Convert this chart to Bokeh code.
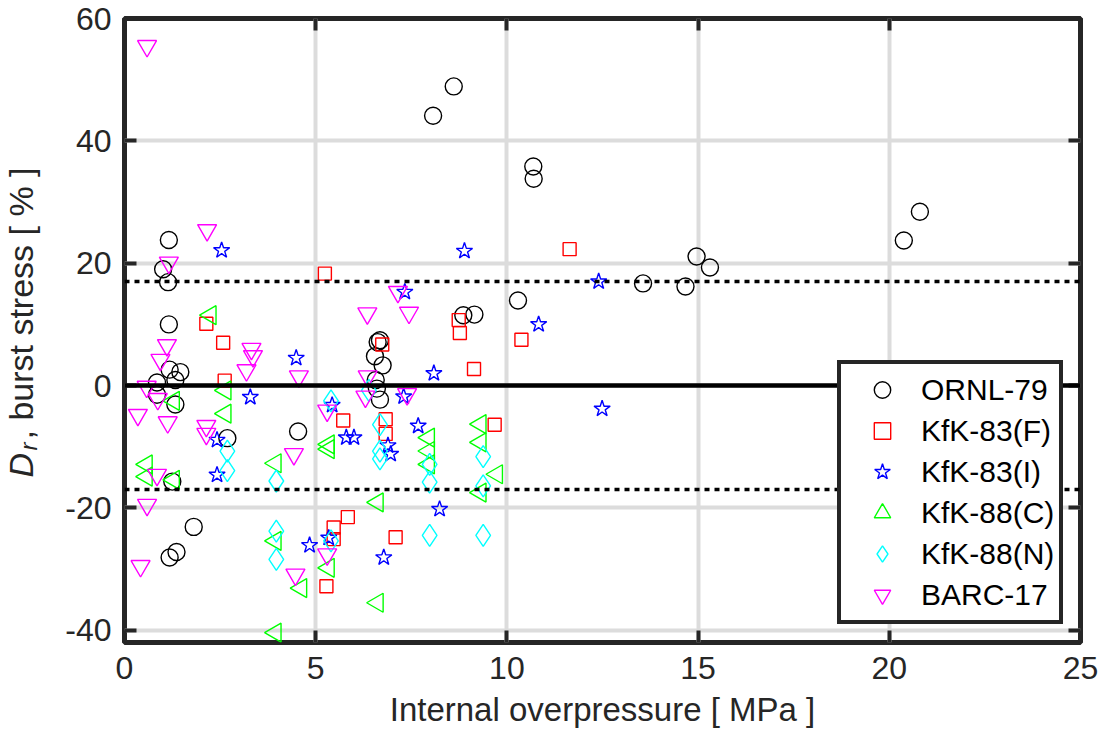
import math
from bokeh.plotting import figure
from bokeh.layouts import row
from bokeh.models import (Range1d, FixedTicker, LinearAxis, Legend, LegendItem,
                          Label, Span)
from bokeh.embed import file_html
from bokeh.resources import INLINE

# ---------------- data ----------------
ornl_x = [8.61, 8.07, 10.69, 10.70, 20.80, 20.38, 14.96, 15.31, 13.56, 14.67, 10.29,
          9.15, 8.86, 6.68, 6.62, 6.55, 6.75, 6.57, 6.60, 6.68, 1.16, 1.01, 1.14, 1.16,
          1.18, 1.46, 1.33, 0.85, 0.85, 1.33, 2.69, 4.54, 1.25, 1.81, 1.36, 1.18]
ornl_y = [48.9, 44.1, 35.8, 33.8, 28.4, 23.7, 21.1, 19.3, 16.7, 16.2, 13.9,
          11.6, 11.5, 7.4, 7.1, 4.8, 3.3, 0.9, -0.5, -2.3, 23.8, 19.0, 16.9, 10.0,
          2.6, 2.2, 0.9, 0.5, -1.5, -3.1, -8.6, -7.5, -15.7, -23.1, -27.2, -28.1]

kf_x = [5.24, 2.14, 2.58, 2.62, 5.72, 5.84, 5.47, 5.47, 5.28, 8.74, 8.77, 6.74, 9.14,
        10.38, 6.83, 6.83, 9.68, 7.09, 11.64]
kf_y = [18.3, 10.1, 7.0, 0.8, -5.7, -21.5, -23.2, -25.1, -32.8, 10.7, 8.6, 6.7, 2.7,
        7.5, -5.5, -7.9, -6.4, -24.8, 22.3]

ki_x = [2.54, 4.49, 3.29, 2.42, 2.42, 5.43, 5.80, 6.00, 4.84, 5.34, 8.09, 7.30, 7.68,
        6.89, 6.96, 8.24, 6.78, 10.83, 12.49, 8.89, 7.33, 12.40]
ki_y = [22.1, 4.5, -1.9, -8.9, -14.6, -3.2, -8.5, -8.5, -26.1, -24.9, 2.0, -1.8, -6.6,
        -9.8, -11.2, -20.2, -28.1, 10.0, -3.8, 22.0, 15.3, 17.0]

kc_x = [2.25, 2.64, 2.64, 1.29, 0.58, 0.58, 1.29, 3.95, 3.95, 4.62, 5.34, 5.34, 5.34,
        3.95, 7.96, 7.96, 7.96, 9.31, 9.31, 9.74, 9.31, 6.62, 6.62]
kc_y = [11.5, -0.8, -4.6, -2.5, -12.9, -14.9, -15.4, -12.7, -25.4, -33.1, -29.8, -9.6,
        -10.4, -40.4, -8.5, -10.7, -12.9, -6.3, -9.3, -14.5, -17.5, -19.1, -35.5]

kn_x = [5.40, 2.69, 2.69, 3.97, 3.97, 3.97, 5.40, 6.68, 6.68, 6.68, 7.98, 7.98, 7.98,
        9.38, 9.38, 9.38, 6.39]
kn_y = [-2.5, -10.7, -13.9, -15.6, -23.8, -28.4, -25.4, -6.4, -10.7, -12.0, -12.9,
        -15.8, -24.5, -11.6, -16.4, -24.5, -0.8]

barc_x = [0.59, 2.16, 1.16, 6.35, 1.11, 0.94, 0.58, 0.87, 0.35, 1.13, 3.32, 3.36, 3.19,
          4.56, 2.14, 2.14, 4.43, 0.85, 0.59, 0.42, 5.30, 5.30, 4.47, 7.44, 6.30, 6.36,
          7.39, 7.15]
barc_y = [55.5, 25.4, 20.1, 11.8, 6.6, 4.2, -0.2, -2.2, -4.8, -6.0, 6.0, 4.8, 2.5,
          1.5, -6.6, -7.9, -11.2, -14.6, -19.5, -29.5, -4.1, -27.6, -30.9, 11.9, -1.8,
          1.5, -1.4, 15.3]

series_names = ["ORNL-79", "KfK-83(F)", "KfK-83(I)", "KfK-88(C)", "KfK-88(N)", "BARC-17"]
x_ticks = [0, 5, 10, 15, 20, 25]
y_ticks = [-40, -20, 0, 20, 40, 60]
zero_level = 0
band_levels = [17, -17]

FONT = "Liberation Sans"
DARK = "#262626"
LABEL_W = 60

# ---------- narrow figure holding the y axis title ----------
lf = figure(width=LABEL_W, height=741, output_backend="svg", toolbar_location=None,
            x_axis_type=None, y_axis_type=None, min_border=0,
            x_range=Range1d(0, 1), y_range=Range1d(0, 1))
lf.grid.visible = False
lf.outline_line_color = None
lf.background_fill_color = "white"
lf.border_fill_color = "white"

ylab_common = dict(x_units="canvas", y_units="canvas", angle=math.pi / 2,
                   text_font=FONT, text_color=DARK, text_baseline="alphabetic",
                   text_align="left")
lf.add_layout(Label(x=20, y=477, text="D", text_font_style="italic",
                    text_font_size="34px", **ylab_common))
lf.add_layout(Label(x=28, y=450, text="r", text_font_style="italic",
                    text_font_size="24px", **ylab_common))
lf.add_layout(Label(x=20, y=439, text=", burst stress [ % ]",
                    text_font_size="34px", **ylab_common))

# ---------- main figure ----------
p = figure(width=1105 - LABEL_W, height=741, output_backend="svg",
           toolbar_location=None,
           x_range=Range1d(0, 25), y_range=Range1d(-42, 60),
           min_border_left=124 - LABEL_W, min_border_right=25, min_border_top=18,
           min_border_bottom=99)

p.background_fill_color = "white"
p.border_fill_color = "white"
p.outline_line_color = DARK
p.outline_line_width = 5

xt = FixedTicker(ticks=x_ticks)
yt = FixedTicker(ticks=y_ticks)
p.xaxis.ticker = xt
p.yaxis.ticker = yt
p.xgrid.ticker = xt
p.ygrid.ticker = yt
p.grid.grid_line_color = "#dcdcdc"
p.grid.grid_line_width = 4

for ax in (p.xaxis[0], p.yaxis[0]):
    ax.axis_line_color = None
    ax.major_tick_in = 12
    ax.major_tick_out = 0
    ax.major_tick_line_width = 4
    ax.major_tick_line_color = DARK
    ax.minor_tick_line_color = None
    ax.major_label_text_font = FONT
    ax.major_label_text_font_size = "32px"
    ax.major_label_text_color = DARK

p.yaxis.major_label_overrides = {t: str(t) for t in y_ticks}
p.xaxis.major_label_standoff = 14
p.yaxis.major_label_standoff = 13
p.xaxis.axis_label = "Internal overpressure [ MPa ]"
p.xaxis.axis_label_text_font = FONT
p.xaxis.axis_label_text_font_size = "33px"
p.xaxis.axis_label_text_font_style = "normal"
p.xaxis.axis_label_text_color = DARK
p.xaxis.axis_label_standoff = 9

# mirrored ticks (box style), labels not painted
mirror = dict(major_label_text_color=None, major_label_text_font_size="1px",
              axis_line_color=None, major_tick_in=12, major_tick_out=0,
              major_tick_line_width=4, major_tick_line_color=DARK,
              minor_tick_line_color=None, major_label_standoff=0)
p.add_layout(LinearAxis(ticker=xt, **mirror), "above")
p.add_layout(LinearAxis(ticker=yt, **mirror), "right")

LW = 1.4
r1 = p.scatter(ornl_x, ornl_y, marker="circle", size=17, fill_color=None,
               line_color="black", line_width=LW)
r2 = p.scatter(kf_x, kf_y, marker="square", size=13, fill_color=None,
               line_color="#ff0000", line_width=LW)
r3 = p.scatter(ki_x, ki_y, marker="star", size=17, fill_color=None,
               line_color="#0000ff", line_width=LW)
r4 = p.scatter(kc_x, kc_y, marker="triangle", size=19, angle=math.pi / 2,
               fill_color=None, line_color="#00ff00", line_width=LW)
r5 = p.scatter(kn_x, kn_y, marker="diamond", size=22, fill_color=None,
               line_color="#00ffff", line_width=LW)
r6 = p.scatter(barc_x, barc_y, marker="inverted_triangle", size=19, fill_color=None,
               line_color="#ff00ff", line_width=LW)

p.add_layout(Span(location=zero_level, dimension="width", line_color="black",
                  line_width=4.5))
for lv in band_levels:
    p.add_layout(Span(location=lv, dimension="width", line_color="black",
                      line_width=3.5, line_dash="5 5"))

legend = Legend(items=[LegendItem(label=n, renderers=[r])
                       for n, r in zip(series_names, [r1, r2, r3, r4, r5, r6])],
                location=(713, 18), margin=0, padding=5, spacing=0,
                glyph_width=72, glyph_height=41, label_height=41, label_width=133,
                label_standoff=3, label_text_font=FONT, label_text_font_size="30px",
                label_text_color="black", border_line_color=DARK,
                border_line_width=4, border_line_alpha=1.0,
                background_fill_color="white", background_fill_alpha=1.0)
p.add_layout(legend)

layout = row(lf, p, spacing=0)
open("out.html", "w").write(file_html(layout, INLINE))
